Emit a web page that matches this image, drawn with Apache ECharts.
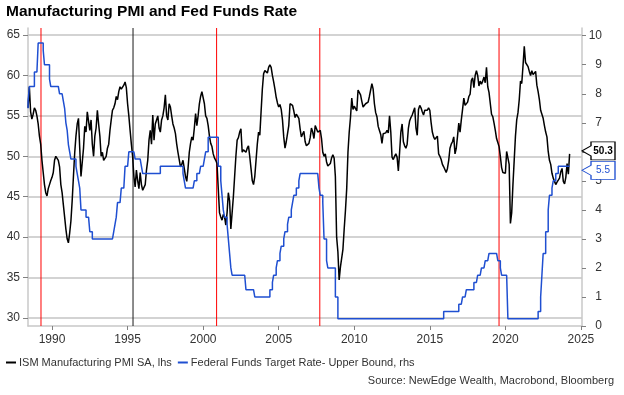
<!DOCTYPE html>
<html><head><meta charset="utf-8">
<script src="https://cdn.jsdelivr.net/npm/echarts@6/dist/echarts.min.js"></script>
<style>html,body{margin:0;padding:0;background:#fff}#c{width:624px;height:395px}</style>
</head><body><div id="c"></div>
<script>
// ---- data ----
// ISM Manufacturing PMI, monthly, plotted at month end; first point 1988.42
const pmiStart = 1988 + 5 / 12;
const pmi = [
  56.0, 58.6, 55.5, 54.6, 55.2, 56.0, 55.7,                               // 1988
  55.0, 54.0, 52.5, 51.5, 49.5, 48.0, 46.5, 45.5, 45.1, 46.0, 46.5, 47.0, // 1989
  47.4, 48.0, 49.5, 50.0, 49.8, 49.5, 48.7, 46.5, 45.5, 44.0, 42.5, 41.0, // 1990
  39.8, 39.3, 40.5, 42.0, 44.5, 47.5, 50.4, 52.5, 54.0, 54.7, 51.0, 47.5, // 1991
  47.5, 51.0, 53.7, 53.0, 55.5, 55.5, 53.2, 54.5, 51.5, 50.0, 52.5, 53.5, // 1992
  55.7, 54.0, 52.5, 50.0, 50.5, 49.5, 49.5, 50.0, 51.0, 51.5, 53.2, 54.5, // 1993
  55.7, 56.0, 56.5, 57.4, 57.0, 58.0, 58.6, 58.3, 58.5, 58.8, 59.2, 58.5, // 1994
  56.5, 55.0, 53.2, 51.5, 50.0, 47.5, 46.2, 48.3, 47.0, 46.0, 48.0, 46.5, // 1995
  45.8, 46.0, 46.5, 48.3, 49.5, 52.0, 53.2, 51.5, 55.1, 52.0, 54.0, 54.5, // 1996
  55.0, 53.5, 53.0, 54.5, 55.0, 56.0, 57.6, 55.0, 54.5, 56.5, 56.1, 55.0, // 1997
  54.0, 53.5, 52.8, 51.5, 50.5, 49.6, 48.7, 49.0, 49.5, 48.5, 47.5, 46.9, // 1998
  48.5, 50.5, 51.6, 52.4, 52.0, 53.5, 55.3, 53.8, 55.0, 56.5, 57.4, 58.0, // 1999
  57.8, 56.5, 55.0, 54.7, 53.8, 52.5, 51.6, 51.2, 50.3, 49.8, 49.5, 49.1, // 2000
  46.0, 43.0, 42.5, 42.1, 42.8, 42.5, 41.5, 43.0, 45.5, 44.5, 41.0, 43.0, // 2001
  45.0, 47.5, 50.0, 52.0, 52.3, 53.0, 53.4, 50.5, 50.8, 51.0, 50.5, 51.0, // 2002
  51.3, 50.0, 48.5, 47.0, 46.5, 47.5, 49.5, 51.5, 53.0, 52.6, 55.5, 58.3, // 2003
  60.2, 60.6, 60.5, 60.3, 61.0, 61.3, 61.0, 60.0, 59.2, 58.3, 57.3, 56.6, // 2004
  56.1, 56.4, 55.8, 54.5, 52.4, 51.0, 51.8, 52.8, 53.8, 56.5, 56.7, 56.3, // 2005
  55.6, 54.8, 55.2, 55.4, 54.7, 53.4, 52.4, 52.6, 53.1, 51.8, 51.3, 51.3, // 2006
  51.6, 52.3, 53.5, 53.0, 52.2, 53.8, 53.4, 53.0, 52.8, 53.2, 52.2, 50.5, // 2007
  50.0, 50.3, 49.3, 48.8, 48.8, 49.1, 49.8, 50.2, 49.8, 47.5, 40.0, 38.2, // 2008
  34.7, 36.3, 36.5, 38.5, 41.0, 43.3, 46.0, 50.5, 53.0, 54.8, 57.2, 55.8, // 2009
  56.2, 55.9, 55.6, 58.2, 58.4, 57.6, 56.8, 56.1, 56.2, 56.5, 56.7, 56.7, // 2010
  57.4, 58.2, 59.0, 58.3, 56.5, 55.4, 54.9, 53.7, 53.2, 52.7, 51.6, 52.8, // 2011
  53.0, 52.9, 53.2, 52.9, 55.0, 53.0, 49.9, 49.6, 50.0, 50.3, 49.9, 48.2, // 2012
  50.5, 53.0, 54.0, 51.8, 51.3, 51.0, 51.5, 53.5, 54.4, 54.8, 55.1, 55.3, // 2013
  56.0, 53.5, 52.6, 55.8, 56.3, 56.0, 55.5, 55.1, 55.7, 55.9, 55.7, 56.0, // 2014
  55.7, 54.2, 53.0, 52.4, 52.1, 52.2, 52.5, 50.3, 50.0, 49.6, 49.0, 48.7, // 2015
  48.7, 48.0, 48.5, 49.5, 51.0, 51.5, 51.8, 52.4, 50.3, 51.0, 52.5, 54.1, // 2016
  53.0, 54.5, 55.8, 57.2, 56.3, 56.3, 56.7, 57.4, 57.7, 59.4, 59.7, 58.5, // 2017
  60.0, 60.6, 60.0, 58.7, 59.3, 58.9, 59.3, 59.8, 59.1, 61.0, 58.6, 57.9, // 2018
  58.0, 55.2, 54.9, 54.1, 53.2, 52.2, 51.7, 51.2, 50.0, 48.6, 48.0, 47.9, // 2019
  47.9, 50.6, 50.5, 49.0, 41.7, 43.0, 46.5, 49.5, 52.5, 54.5, 55.4, 57.0, // 2020
  59.3, 59.0, 61.2, 63.6, 61.6, 61.7, 61.1, 60.5, 60.0, 60.6, 60.1, 60.3, // 2021
  60.5, 58.8, 58.0, 57.0, 55.7, 55.7, 54.7, 53.8, 53.0, 52.4, 50.6, 49.5, // 2022
  49.0, 47.9, 47.3, 46.9, 46.5, 46.8, 46.8, 47.3, 48.1, 48.5, 46.9, 46.6, // 2023
  47.4, 49.1, 47.8, 50.3                                                  // 2024
];
// Federal Funds Target Rate - Upper Bound, month-end level, May 1988 .. Mar 2024
const fedRate = [
  7.5, 7.75, 8.25, 8.25, 8.25, 8.25, 8.75, 8.75,                          // 1988 May-Dec
  8.75, 9.75, 9.75, 9.75, 9.75, 9.5, 9.0, 9.0, 9.0, 9.0, 8.5, 8.25,       // 1989
  8.25, 8.25, 8.25, 8.25, 8.25, 8.25, 8.0, 8.0, 8.0, 7.75, 7.5, 7.0,      // 1990
  6.75, 6.25, 6.0, 5.75, 5.75, 5.75, 5.75, 5.5, 5.25, 5.0, 4.75, 4.0,     // 1991
  4.0, 4.0, 4.0, 3.75, 3.75, 3.75, 3.25, 3.25, 3.0, 3.0, 3.0, 3.0,        // 1992
  3.0, 3.0, 3.0, 3.0, 3.0, 3.0, 3.0, 3.0, 3.0, 3.0, 3.0, 3.0,             // 1993
  3.0, 3.25, 3.5, 3.75, 4.25, 4.25, 4.25, 4.75, 4.75, 4.75, 5.5, 5.5,     // 1994
  5.5, 6.0, 6.0, 6.0, 6.0, 6.0, 5.75, 5.75, 5.75, 5.75, 5.75, 5.5,        // 1995
  5.25, 5.25, 5.25, 5.25, 5.25, 5.25, 5.25, 5.25, 5.25, 5.25, 5.25, 5.25, // 1996
  5.25, 5.25, 5.5, 5.5, 5.5, 5.5, 5.5, 5.5, 5.5, 5.5, 5.5, 5.5,           // 1997
  5.5, 5.5, 5.5, 5.5, 5.5, 5.5, 5.5, 5.5, 5.25, 5.0, 4.75, 4.75,          // 1998
  4.75, 4.75, 4.75, 4.75, 4.75, 5.0, 5.0, 5.25, 5.25, 5.25, 5.5, 5.5,     // 1999
  5.5, 5.75, 6.0, 6.0, 6.5, 6.5, 6.5, 6.5, 6.5, 6.5, 6.5, 6.5,            // 2000
  5.5, 5.5, 5.0, 4.5, 4.0, 3.75, 3.75, 3.5, 3.0, 2.5, 2.0, 1.75,          // 2001
  1.75, 1.75, 1.75, 1.75, 1.75, 1.75, 1.75, 1.75, 1.75, 1.75, 1.25, 1.25, // 2002
  1.25, 1.25, 1.25, 1.25, 1.25, 1.0, 1.0, 1.0, 1.0, 1.0, 1.0, 1.0,        // 2003
  1.0, 1.0, 1.0, 1.0, 1.0, 1.25, 1.25, 1.5, 1.75, 1.75, 2.0, 2.25,        // 2004
  2.25, 2.5, 2.75, 2.75, 3.0, 3.25, 3.25, 3.5, 3.75, 3.75, 4.0, 4.25,     // 2005
  4.5, 4.5, 4.75, 4.75, 5.0, 5.25, 5.25, 5.25, 5.25, 5.25, 5.25, 5.25,    // 2006
  5.25, 5.25, 5.25, 5.25, 5.25, 5.25, 5.25, 5.25, 4.75, 4.5, 4.5, 4.25,   // 2007
  3.0, 3.0, 2.25, 2.0, 2.0, 2.0, 2.0, 2.0, 2.0, 1.0, 1.0, 0.25,           // 2008
  0.25, 0.25, 0.25, 0.25, 0.25, 0.25, 0.25, 0.25, 0.25, 0.25, 0.25, 0.25, // 2009
  0.25, 0.25, 0.25, 0.25, 0.25, 0.25, 0.25, 0.25, 0.25, 0.25, 0.25, 0.25, // 2010
  0.25, 0.25, 0.25, 0.25, 0.25, 0.25, 0.25, 0.25, 0.25, 0.25, 0.25, 0.25, // 2011
  0.25, 0.25, 0.25, 0.25, 0.25, 0.25, 0.25, 0.25, 0.25, 0.25, 0.25, 0.25, // 2012
  0.25, 0.25, 0.25, 0.25, 0.25, 0.25, 0.25, 0.25, 0.25, 0.25, 0.25, 0.25, // 2013
  0.25, 0.25, 0.25, 0.25, 0.25, 0.25, 0.25, 0.25, 0.25, 0.25, 0.25, 0.25, // 2014
  0.25, 0.25, 0.25, 0.25, 0.25, 0.25, 0.25, 0.25, 0.25, 0.25, 0.25, 0.5,  // 2015
  0.5, 0.5, 0.5, 0.5, 0.5, 0.5, 0.5, 0.5, 0.5, 0.5, 0.5, 0.75,            // 2016
  0.75, 0.75, 1.0, 1.0, 1.0, 1.25, 1.25, 1.25, 1.25, 1.25, 1.25, 1.5,     // 2017
  1.5, 1.5, 1.75, 1.75, 1.75, 2.0, 2.0, 2.0, 2.25, 2.25, 2.25, 2.5,       // 2018
  2.5, 2.5, 2.5, 2.5, 2.5, 2.5, 2.25, 2.25, 2.0, 1.75, 1.75, 1.75,        // 2019
  1.75, 1.75, 0.25, 0.25, 0.25, 0.25, 0.25, 0.25, 0.25, 0.25, 0.25, 0.25, // 2020
  0.25, 0.25, 0.25, 0.25, 0.25, 0.25, 0.25, 0.25, 0.25, 0.25, 0.25, 0.25, // 2021
  0.25, 0.25, 0.5, 0.5, 1.0, 1.75, 2.5, 2.5, 3.25, 3.25, 4.0, 4.5,        // 2022
  4.5, 4.75, 5.0, 5.0, 5.25, 5.25, 5.5, 5.5, 5.5, 5.5, 5.5, 5.5,          // 2023
  5.5, 5.5, 5.5                                                            // 2024 Jan-Mar
];
const yearTicks = [1990, 1995, 2000, 2005, 2010, 2015, 2020, 2025];
const pmiTicks = [30, 35, 40, 45, 50, 55, 60, 65];
const rateTicks = [0, 1, 2, 3, 4, 5, 6, 7, 8, 9, 10];
const redEventLines = [1989.27, 2000.89, 2007.72, 2019.58];
const darkEventLines = [1995.36];
const titleText = 'Manufacturing PMI and Fed Funds Rate';
const sourceText = 'Source: NewEdge Wealth, Macrobond, Bloomberg';
const pmiName = 'ISM Manufacturing PMI SA, lhs';
const fedName = 'Federal Funds Target Rate- Upper Bound, rhs';

// ---- chart ----
const FONT = '"Liberation Sans", Arial, sans-serif';
const BLUE = '#1f4fd1';
const xMin = 1988.41, xMax = 2025.07;
const yMin = 29.01, yMax = 65.87;
const pmiData = pmi.map((v, i) => [pmiStart + i / 12, v]);
const fedData = fedRate.map((v, i) => [pmiStart + i / 12, v]);
const lastPmi = pmi[pmi.length - 1];
const lastFed = fedRate[fedRate.length - 1];
const callout = 'path://M0,9 L9,4 L9,0 L33,0 L33,18 L9,18 L9,14 Z';

function eventSeries(x, color) {
  return {type: 'line', yAxisIndex: 0, data: [[x, yMin], [x, yMax]], symbol: 'none', showSymbol: false,
          silent: true, z: 1, lineStyle: {color: color, width: 1}, itemStyle: {color: color},
          emphasis: {disabled: true}, tooltip: {show: false}};
}

const chart = echarts.init(document.getElementById('c'), null, {renderer: 'canvas'});
chart.setOption({
  animation: false,
  backgroundColor: '#fff',
  textStyle: {fontFamily: FONT},
  title: [
    {text: titleText, left: 6, top: 4, padding: 0,
     textStyle: {fontFamily: FONT, fontSize: 15.5, fontWeight: 'bold', color: '#000'}},
    {text: sourceText, right: 10, top: 375, padding: 0,
     textStyle: {fontFamily: FONT, fontSize: 11, fontWeight: 'normal', color: '#333'}}
  ],
  legend: {
    left: 6, top: 357, padding: 0, itemGap: 6, itemWidth: 10, itemHeight: 2, icon: 'rect',
    data: [pmiName, fedName],
    textStyle: {fontFamily: FONT, fontSize: 11, color: '#333', padding: [0, 0, 0, -2]}
  },
  grid: {left: 28, right: 42, top: 28, bottom: 69, containLabel: false},
  xAxis: {
    type: 'value', min: xMin, max: xMax,
    axisLine: {show: true, lineStyle: {color: '#c8c8c8', width: 1.5}},
    axisTick: {show: true, length: 4, lineStyle: {color: '#808080'}, customValues: yearTicks},
    axisLabel: {customValues: yearTicks, margin: 8, fontSize: 12, color: '#333', fontFamily: FONT,
                formatter: v => String(Math.round(v))},
    splitLine: {show: false}
  },
  yAxis: [
    {type: 'value', min: yMin, max: yMax, position: 'left',
     axisLine: {show: true, lineStyle: {color: '#c8c8c8', width: 1.5}},
     axisTick: {show: true, length: 5, lineStyle: {color: '#808080'}, customValues: pmiTicks},
     axisLabel: {customValues: pmiTicks, margin: 8, fontSize: 12, color: '#333', fontFamily: FONT},
     splitLine: {show: true, lineStyle: {color: '#c4c4c4', width: 1.5}}},
    {type: 'value', min: 0, max: 10.265, position: 'right',
     axisLine: {show: true, lineStyle: {color: '#c8c8c8', width: 1.5}},
     axisTick: {show: true, length: 4, lineStyle: {color: '#808080'}, customValues: rateTicks},
     axisLabel: {customValues: rateTicks, margin: 20, align: 'right', fontSize: 12, color: '#333', fontFamily: FONT},
     splitLine: {show: false}}
  ],
  series: [
    ...redEventLines.map(x => eventSeries(x, '#ff0000')),
    ...darkEventLines.map(x => eventSeries(x, '#1a1a1a')),
    {name: pmiName, type: 'line', yAxisIndex: 0, data: pmiData, showSymbol: false, symbol: 'none',
     lineStyle: {color: '#000', width: 1.5}, itemStyle: {color: '#000'}, z: 3,
     markPoint: {silent: true, symbol: callout, symbolSize: [33, 18], symbolOffset: [16.5, -3],
       itemStyle: {color: '#fff', borderColor: '#000', borderWidth: 1},
       label: {show: true, position: 'inside', offset: [4.5, 0], fontSize: 10, fontWeight: 'bold', color: '#000',
               fontFamily: FONT, formatter: p => p.value.toFixed(1)},
       data: [{coord: [xMax, lastPmi], value: lastPmi}]}},
    {name: fedName, type: 'line', yAxisIndex: 1, data: fedData, step: 'start', showSymbol: false, symbol: 'none',
     lineStyle: {color: BLUE, width: 1.5}, itemStyle: {color: BLUE}, z: 4,
     markPoint: {silent: true, symbol: callout, symbolSize: [33, 18], symbolOffset: [16.5, 4],
       itemStyle: {color: '#fff', borderColor: BLUE, borderWidth: 1},
       label: {show: true, position: 'inside', offset: [4.5, 0], fontSize: 10, color: BLUE,
               fontFamily: FONT, formatter: p => p.value.toFixed(1)},
       data: [{coord: [xMax, lastFed], value: lastFed}]}}
  ]
});
</script></body></html>
